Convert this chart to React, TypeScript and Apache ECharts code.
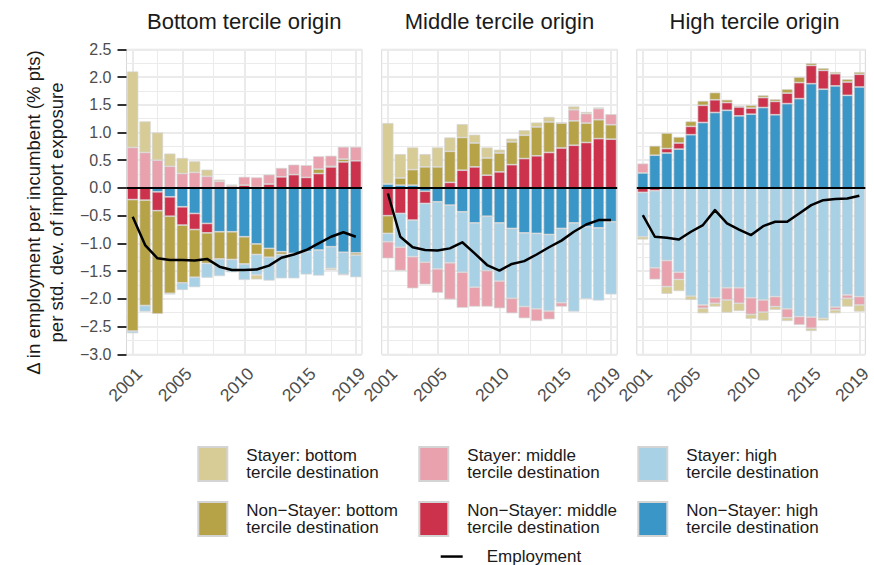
import React, { useEffect, useRef } from "react";
import * as echarts from "echarts";

const FONT = "Liberation Sans, Arial, Helvetica, sans-serif";

const YEARS = ["2001","2002","2003","2004","2005","2006","2007","2008","2009","2010","2011","2012","2013","2014","2015","2016","2017","2018","2019"];
const X_LABELS = ["2001", "2005", "2010", "2015", "2019"];
const MAJOR_X = [2001, 2005, 2010, 2015, 2019];
const MINOR_X = [2003, 2007.5, 2012.5, 2017];
const PANEL_TITLES = ["Bottom tercile origin", "Middle tercile origin", "High tercile origin"];

// Bottom tercile origin
const BOT_NS_HIGH = [0, 0, -0.07, -0.16, -0.34, -0.46, -0.64, -0.79, -0.79, -0.88, -1.01, -1.09, -1.15, -1.18, -1.15, -1.12, -1.06, -1.16, -1.17];
const BOT_NS_MID = [-0.21, -0.22, -0.34, -0.35, -0.33, -0.29, -0.17, 0, 0, 0.05, 0.01, 0.07, 0.2, 0.24, 0.19, 0.26, 0.38, 0.47, 0.49];
const BOT_NS_BOT = [-2.37, -1.9, -1.86, -1.39, -1.04, -0.86, -0.55, -0.49, -0.5, -0.49, -0.19, -0.16, -0.05, 0, 0, 0.08, 0.01, 0.05, -0.04];
const BOT_S_HIGH = [-0.04, -0.11, 0, -0.02, -0.13, -0.18, -0.26, -0.31, -0.23, -0.29, -0.37, -0.42, -0.43, -0.45, -0.41, -0.46, -0.39, -0.4, -0.4];
const BOT_S_MID = [0.73, 0.64, 0.5, 0.39, 0.26, 0.28, 0.21, 0.12, 0.04, 0.15, 0.18, 0.17, 0.16, 0.18, 0.22, 0.23, 0.19, 0.22, 0.25];
const BOT_S_BOT = [1.37, 0.56, 0.5, 0.23, 0.28, 0.2, 0.12, 0.03, 0.02, 0, -0.08, 0, 0, 0, 0, 0, -0.03, -0.01, 0];
const BOT_EMP = [-0.52, -1.03, -1.27, -1.3, -1.3, -1.31, -1.28, -1.42, -1.48, -1.48, -1.47, -1.4, -1.26, -1.2, -1.12, -1.0, -0.88, -0.8, -0.88];

// Middle tercile origin
const MID_NS_HIGH = [0.07, 0.05, 0.05, -0.06, -0.25, -0.31, -0.43, -0.63, -0.51, -0.63, -0.73, -0.81, -0.82, -0.84, -0.73, -0.63, -0.7, -0.72, -0.61];
const MID_NS_MID = [-0.5, -0.46, -0.58, -0.22, 0, 0.1, 0.32, 0.38, 0.23, 0.29, 0.42, 0.53, 0.58, 0.64, 0.72, 0.77, 0.82, 0.89, 0.88];
const MID_NS_BOT = [-0.32, 0.13, 0.28, 0.38, 0.38, 0.56, 0.59, 0.43, 0.31, 0.34, 0.41, 0.42, 0.52, 0.55, 0.45, 0.44, 0.35, 0.34, 0.26];
const MID_S_HIGH = [-0.15, -0.61, -0.66, -1.06, -1.21, -1.04, -1.09, -1.16, -0.98, -1.05, -1.26, -1.33, -1.36, -1.38, -1.34, -1.6, -1.3, -1.31, -1.31];
const MID_S_MID = [-0.3, -0.42, -0.57, -0.4, -0.43, -0.66, -0.64, -0.35, -0.65, -0.49, -0.27, -0.21, -0.22, -0.15, -0.07, 0.2, 0.17, 0.2, 0.19];
const MID_S_BOT = [1.1, 0.43, 0.4, 0.23, 0.35, 0.25, 0.24, 0.15, 0.19, 0.06, 0.06, 0.09, 0.08, 0.09, 0.01, 0.06, 0.03, 0.02, 0];
const MID_EMP = [-0.1, -0.88, -1.07, -1.12, -1.13, -1.09, -0.98, -1.18, -1.39, -1.49, -1.37, -1.32, -1.2, -1.07, -0.95, -0.79, -0.66, -0.58, -0.58];

// High tercile origin
const HIGH_NS_HIGH = [0.27, 0.59, 0.63, 0.7, 0.96, 1.18, 1.36, 1.4, 1.3, 1.33, 1.45, 1.32, 1.52, 1.61, 1.88, 1.78, 1.84, 1.67, 1.82];
const HIGH_NS_MID = [-0.08, -0.05, 0.08, 0.11, 0.15, 0.31, 0.23, 0.14, 0.16, 0.11, 0.18, 0.24, 0.19, 0.29, 0.33, 0.34, 0.22, 0.24, 0.23];
const HIGH_NS_BOT = [0, 0.17, 0.28, 0.11, 0.09, 0.08, 0.13, 0.05, 0.02, 0.05, 0.04, 0.04, 0.07, 0.1, 0.04, 0.04, 0.03, 0.05, 0.04];
const HIGH_S_HIGH = [-0.8, -1.39, -1.31, -1.52, -1.95, -2.11, -1.98, -1.8, -1.8, -1.98, -2.02, -1.96, -2.18, -2.32, -2.33, -2.35, -2.15, -1.93, -1.96];
const HIGH_S_MID = [0.17, -0.21, -0.47, -0.13, 0, -0.06, -0.1, -0.22, -0.28, -0.3, -0.22, -0.18, -0.16, -0.15, -0.2, 0, -0.05, -0.06, -0.15];
const HIGH_S_BOT = [-0.05, 0, -0.13, -0.21, -0.07, -0.09, -0.06, -0.23, -0.14, -0.08, -0.15, -0.06, -0.06, 0, -0.05, -0.04, -0.06, -0.15, -0.12];
const HIGH_EMP = [-0.49, -0.88, -0.9, -0.93, -0.79, -0.67, -0.4, -0.64, -0.75, -0.85, -0.69, -0.61, -0.61, -0.46, -0.31, -0.22, -0.2, -0.19, -0.14];

// stacking order from zero outwards
const COMPONENTS = [
  { name: "Non\u2212Stayer: high\ntercile destination", color: "#3A96C6" },
  { name: "Non\u2212Stayer: middle\ntercile destination", color: "#CD324D" },
  { name: "Non\u2212Stayer: bottom\ntercile destination", color: "#B6A247" },
  { name: "Stayer: high\ntercile destination", color: "#A9D1E6" },
  { name: "Stayer: middle\ntercile destination", color: "#E8A1AD" },
  { name: "Stayer: bottom\ntercile destination", color: "#D7CC96" },
];

const PANEL_PARTS = [
  [BOT_NS_HIGH, BOT_NS_MID, BOT_NS_BOT, BOT_S_HIGH, BOT_S_MID, BOT_S_BOT],
  [MID_NS_HIGH, MID_NS_MID, MID_NS_BOT, MID_S_HIGH, MID_S_MID, MID_S_BOT],
  [HIGH_NS_HIGH, HIGH_NS_MID, HIGH_NS_BOT, HIGH_S_HIGH, HIGH_S_MID, HIGH_S_BOT],
];
const PANEL_EMP = [BOT_EMP, MID_EMP, HIGH_EMP];

const GRID_LEFTS = [126.5, 381.7, 636.8];
const GRID_W = 235.5;
const GRID_TOP = 49.3;
const GRID_H = 305;

function buildOption() {
  const isLabel = (_i: number, v: string) => X_LABELS.includes(v);
  const grids: any[] = [];
  const xAxes: any[] = [];
  const yAxes: any[] = [];
  const series: any[] = [];
  const titles: any[] = [];

  for (let p = 0; p < 3; p++) {
    grids.push({
      left: GRID_LEFTS[p], top: GRID_TOP, width: GRID_W, height: GRID_H,
      show: true, borderColor: "#d9d9d9", borderWidth: 1, backgroundColor: "transparent",
      containLabel: false,
    });
    titles.push({
      text: PANEL_TITLES[p], left: GRID_LEFTS[p] + GRID_W / 2, top: 10, textAlign: "center", padding: 0,
      textStyle: { fontSize: 22, fontWeight: "normal", color: "#1a1a1a", fontFamily: FONT },
    });
    xAxes.push({
      type: "category", gridIndex: p, data: YEARS, boundaryGap: true,
      axisLine: { show: false },
      axisTick: { show: true, alignWithLabel: true, interval: isLabel, length: 8, lineStyle: { color: "#333333", width: 2 } },
      axisLabel: {
        interval: isLabel, rotate: 45, fontSize: 17.5, color: "#4d4d4d", margin: 10, fontFamily: FONT,
        align: "right", verticalAlign: "top",
      },
      splitLine: { show: false },
    });
    xAxes.push({ type: "value", gridIndex: p, min: 2000.5, max: 2019.5, show: false });
    yAxes.push({
      type: "value", gridIndex: p, min: -3, max: 2.5, interval: 0.5,
      axisLine: { show: false },
      axisTick: { show: p === 0, length: 9, lineStyle: { color: "#333333", width: 2 } },
      axisLabel: {
        show: p === 0, fontSize: 16, color: "#4d4d4d", margin: 15, fontFamily: FONT,
        formatter: (v: number) => (v < 0 ? "\u2212" : "") + Math.abs(v).toFixed(1),
      },
      splitLine: { show: true, lineStyle: { color: "#ebebeb", width: 2 } },
      minorTick: { show: false, splitNumber: 2 },
      minorSplitLine: { show: true, lineStyle: { color: "#ebebeb", width: 1 } },
    });

    // vertical grid lines (through the hidden value x axis)
    series.push({
      type: "line", name: "grid" + p, xAxisIndex: 2 * p + 1, yAxisIndex: p, data: [],
      silent: true,
      markLine: {
        silent: true, z: 1, symbol: ["none", "none"], label: { show: false },
        data: [
          ...MAJOR_X.map((x) => ({ xAxis: x, lineStyle: { color: "#ebebeb", width: 2, type: "solid" } })),
          ...MINOR_X.map((x) => ({ xAxis: x, lineStyle: { color: "#ebebeb", width: 1, type: "solid" } })),
        ],
      },
    });

    COMPONENTS.forEach((c, k) => {
      series.push({
        type: "bar", name: c.name, xAxisIndex: 2 * p, yAxisIndex: p, stack: "s" + p,
        barWidth: "90%", z: 2,
        data: PANEL_PARTS[p][k].map((v) => (v === 0 ? null : v)),
        itemStyle: { color: c.color, borderColor: "#d4d4d4", borderWidth: 0.7 },
        ...(k === 0
          ? {
              markLine: {
                silent: true, z: 4, symbol: ["none", "none"], label: { show: false },
                lineStyle: { color: "#000000", width: 2, type: "solid" },
                data: [{ yAxis: 0 }],
              },
            }
          : {}),
      });
    });

    series.push({
      type: "line", name: "Employment", xAxisIndex: 2 * p, yAxisIndex: p, data: PANEL_EMP[p],
      symbol: "none", z: 5,
      lineStyle: { color: "#000000", width: 2.5, join: "round" },
      itemStyle: { color: "#000000" },
    });
  }

  const legendText = { fontSize: 17, lineHeight: 17.5, color: "#1a1a1a", fontFamily: FONT, padding: [0, 0, 0, 14] };
  const legendCols = [
    [COMPONENTS[5].name, COMPONENTS[2].name],
    [COMPONENTS[4].name, COMPONENTS[1].name],
    [COMPONENTS[3].name, COMPONENTS[0].name],
  ];
  const legendLefts = [197.3, 418.3, 637.3];
  const legends: any[] = legendCols.map((d, i) => ({
    data: d, orient: "vertical", left: legendLefts[i], top: 446, padding: 0,
    itemWidth: 29, itemHeight: 34, itemGap: 19, selectedMode: false, icon: "rect",
    textStyle: legendText,
  }));
  legends.push({
    data: ["Employment"], orient: "horizontal", left: 440.7, top: 547.8, padding: 0,
    itemWidth: 22, itemHeight: 2.5, selectedMode: false, icon: "rect",
    itemStyle: { color: "#000000", borderWidth: 0 },
    textStyle: { ...legendText, padding: [0, 0, 0, 19] },
  });

  return {
    animation: false,
    backgroundColor: "#ffffff",
    textStyle: { fontFamily: FONT },
    title: titles,
    grid: grids,
    xAxis: xAxes,
    yAxis: yAxes,
    legend: legends,
    series,
    graphic: [
      {
        type: "text", x: 33, y: 212.5, rotation: Math.PI / 2,
        style: { text: "\u0394 in employment per incumbent (% pts)", font: `18.6px ${FONT}`, fill: "#1a1a1a", align: "center", verticalAlign: "middle" },
      },
      {
        type: "text", x: 56, y: 212.5, rotation: Math.PI / 2,
        style: { text: "per std. dev. of import exposure", font: `18.6px ${FONT}`, fill: "#1a1a1a", align: "center", verticalAlign: "middle" },
      },
    ],
  };
}

export default function App() {
  const ref = useRef<HTMLDivElement>(null);
  useEffect(() => {
    if (!ref.current) return;
    const chart = echarts.init(ref.current, undefined, { renderer: "svg" });
    chart.setOption(buildOption() as any);
    return () => chart.dispose();
  }, []);
  return <div ref={ref} style={{ position: "fixed", left: 0, top: 0, width: 874, height: 565 }} />;
}
